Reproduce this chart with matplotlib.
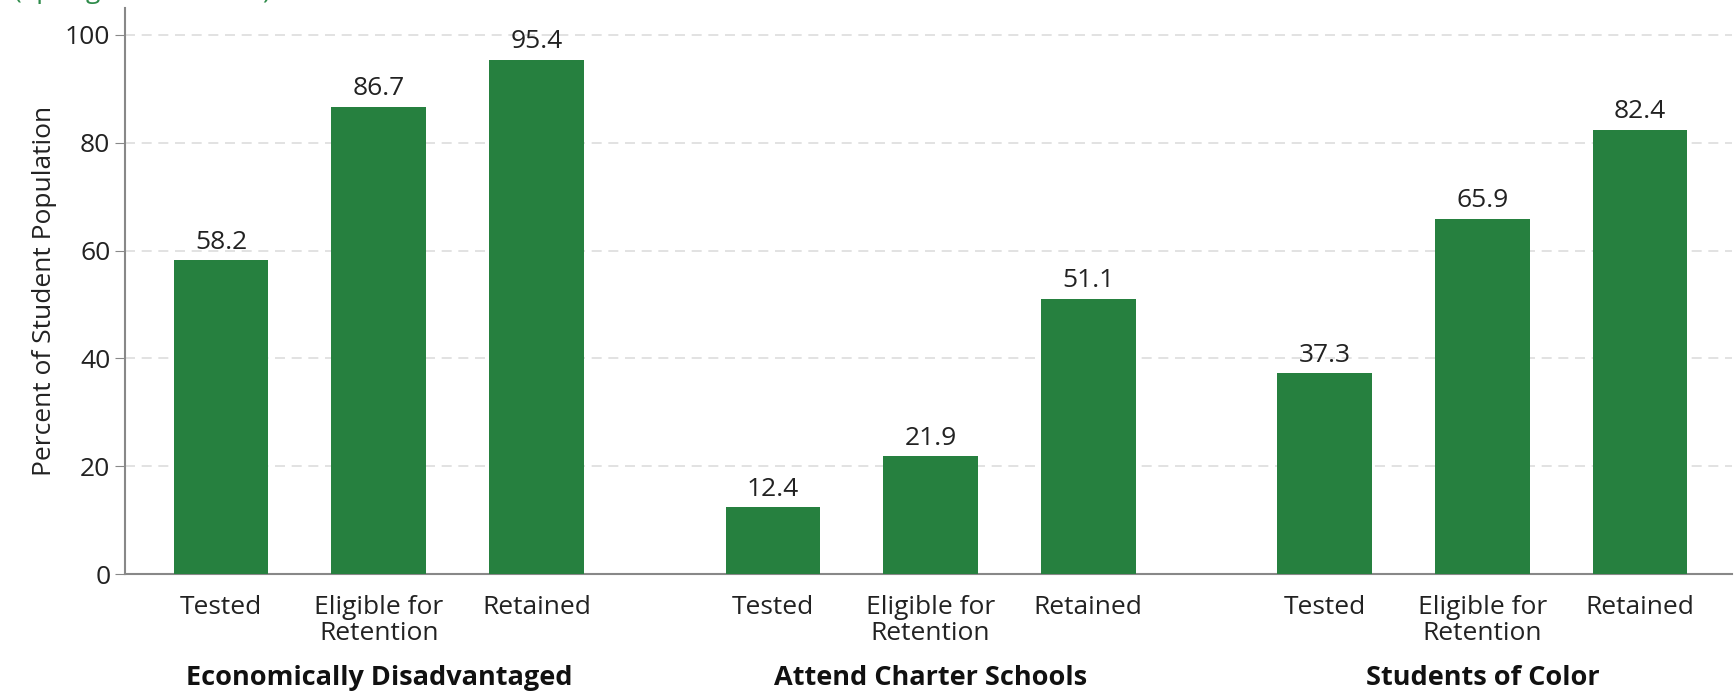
import matplotlib.pyplot as plt
import matplotlib.transforms as mtransforms
import numpy as np

plt.rcParams['font.family'] = ['Open Sans', 'DejaVu Sans']

groups = ['Economically Disadvantaged', 'Attend Charter Schools', 'Students of Color']
bar_labels = ['Tested', 'Eligible for\nRetention', 'Retained']
values = [
    [58.2, 86.7, 95.4],
    [12.4, 21.9, 51.1],
    [37.3, 65.9, 82.4],
]

green = '#26803f'
fig = plt.figure(figsize=(17.35, 6.92), dpi=100)
ax = fig.add_axes([0.072, 0.1705, 0.926, 0.818])

xs, ticklabels = [], []
for g, vals in enumerate(values):
    x = np.arange(3) + g * 3.5
    ax.bar(x, vals, width=0.6, color=green, zorder=3)
    for xi, v in zip(x, vals):
        ax.text(xi, v + 1.0, f'{v:.1f}', ha='center', va='bottom', fontsize=19, color='#222222')
    xs.extend(x)
    ticklabels.extend(bar_labels)
    ax.text(x[1], -0.183, groups[g], ha='center', va='center', fontsize=19.5,
            fontweight='bold', color='#111111',
            transform=mtransforms.blended_transform_factory(ax.transData, ax.transAxes))

ax.set_xticks(xs)
ax.set_xticklabels(ticklabels, fontsize=19, color='#222222', linespacing=1.05)
ax.tick_params(axis='x', length=0, pad=15)
ax.tick_params(axis='y', labelsize=19, length=7, color='#888888', labelcolor='#222222')
ax.set_xlim(-0.61, 9.58)
ax.set_ylim(0, 105)
ax.set_yticks(range(0, 101, 20))
ax.yaxis.grid(True, linestyle=(0, (6, 4)), color='#dddddd', linewidth=1.2, zorder=0)
ax.set_ylabel('Percent of Student Population', fontsize=19, color='#222222', labelpad=6)

for s in ['top', 'right']:
    ax.spines[s].set_visible(False)
for s in ['left', 'bottom']:
    ax.spines[s].set_color('#888888')
    ax.spines[s].set_linewidth(1.5)

# caption above the chart, cut off by the top edge as in the source
fig.text(0.008, 1.003, '(Spring 2019 Results)', color='#2e8b4a', fontsize=19,
         ha='left', va='baseline')

fig.savefig('out.png', dpi=100)
